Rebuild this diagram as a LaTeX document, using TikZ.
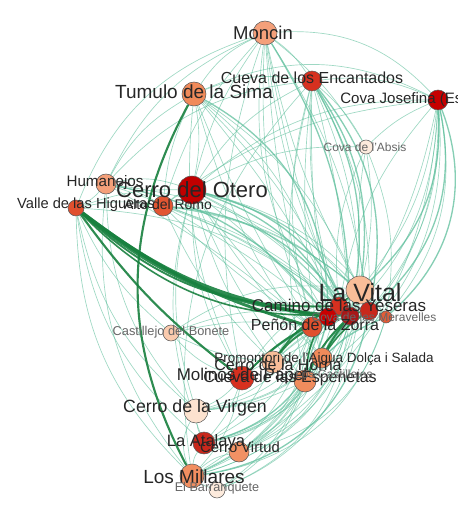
\documentclass[tikz,border=0pt]{standalone}
\usepackage{fontspec}
\setmainfont{Liberation Sans}
\pgfdeclarelayer{edges}
\pgfdeclarelayer{labels}
\pgfsetlayers{edges,main,labels}
\definecolor{eg}{HTML}{5DBE9B}
\definecolor{dg}{HTML}{17803E}
\definecolor{nA}{HTML}{C00000}
\definecolor{nB}{HTML}{C8281C}
\definecolor{nC}{HTML}{D7301F}
\definecolor{nD}{HTML}{E0502E}
\definecolor{nE}{HTML}{F08A5A}
\definecolor{nF}{HTML}{F4A07A}
\definecolor{nG}{HTML}{F9BD98}
\definecolor{nH}{HTML}{FCE2CF}
\definecolor{nI}{HTML}{A81818}
\tikzset{
  site/.style={circle, draw=black!65, line width=0.4pt, inner sep=0pt},
  lbl/.style={inner sep=0pt, text=black!85},
  glbl/.style={inner sep=0pt, text=black!60},
  e/.style={draw=eg, line width=0.5pt, opacity=0.6},
  em/.style={draw=eg, line width=1pt, opacity=0.75},
  dk/.style={draw=dg, opacity=0.9}
}
\newcommand\lsz[1]{\fontsize{#1}{#1}\selectfont}
\begin{document}
\begin{tikzpicture}[x=0.75pt,y=-0.75pt]
\useasboundingbox (0,0) rectangle (457,513);
% nodes
\node[site,fill=nF,minimum size=18pt] (mon) at (265,33) {};
\node[site,fill=nC,minimum size=15pt] (cue) at (312,81) {};
\node[site,fill=nA!90!red,minimum size=15pt] (jos) at (438,100) {};
\node[site,fill=nE,minimum size=18pt] (tum) at (194,94) {};
\node[site,fill=nH!70!white,minimum size=10.5pt] (abs) at (366,147) {};
\node[site,fill=nF,minimum size=15pt] (hum) at (106,184) {};
\node[site,fill=nA,minimum size=21pt] (ote) at (192,190) {};
\node[site,fill=nD!90!nE,minimum size=15pt] (rom) at (163,206) {};
\node[site,fill=nD,minimum size=12pt] (val) at (76,208) {};
\node[site,fill=nG,minimum size=21pt] (vit) at (360,290) {};
\node[site,fill=nC,minimum size=13.5pt] (cam) at (339,306) {};
\node[site,fill=nI,minimum size=13.5pt] (k1) at (350,316) {};
\node[site,fill=nB,minimum size=13.5pt] (k2) at (369,311) {};
\node[site,fill=nA!85!red,minimum size=13.5pt] (k3) at (328,317) {};
\node[site,fill=nD!80!nE,minimum size=9pt] (mer) at (386,317) {};
\node[site,fill=nD,minimum size=15pt] (pen) at (312,327) {};
\node[site,fill=nG!80!white,minimum size=12pt] (cas) at (171,333) {};
\node[site,fill=nG,minimum size=16.5pt] (pro) at (273,362) {};
\node[site,fill=nE,minimum size=15pt] (hor) at (322,358) {};
\node[site,fill=nC,minimum size=18pt] (mol) at (242,378) {};
\node[site,fill=nE!90!nF,minimum size=16.5pt] (esp) at (305,381) {};
\node[site,fill=nH,minimum size=18pt] (vir) at (196,411) {};
\node[site,fill=nB,minimum size=16.5pt] (ata) at (204,443) {};
\node[site,fill=nE!70!nF,minimum size=15pt] (ctv) at (239,452) {};
\node[site,fill=nE!80!nF,minimum size=18pt] (mil) at (192,476) {};
\node[site,fill=nH!70!white,minimum size=12pt] (bar) at (217,490) {};
% edges
\begin{pgfonlayer}{edges}
\foreach \a/\b/\c in {mon/tum/15, mon/cue/-10, mon/jos/-25, mon/abs/-10, mon/hum/20, mon/val/25, mon/ote/10, mon/vit/8, mon/k1/10, mon/k2/-12, mon/cam/5, mon/pen/12, mon/mol/15, mon/hor/6, mon/k3/20, mon/rom/12,
cue/jos/-15, cue/tum/15, cue/abs/-10, cue/ote/15, cue/vit/-10, cue/k1/-5, cue/k2/-15, cue/k3/5, cue/cam/10, cue/pen/15, cue/hor/8, cue/esp/12, cue/mil/25, cue/hum/20,
jos/abs/10, jos/vit/-15, jos/k2/-20, jos/mer/-25, jos/k1/-10, jos/cam/15, jos/ote/20, jos/tum/25, jos/rom/15, jos/pro/-30, jos/esp/-30, jos/mil/-30, jos/hor/-25,
tum/ote/-10, tum/rom/10, tum/hum/15, tum/vit/-15, tum/k1/-10, tum/cam/-5, tum/pen/5, tum/hor/10, tum/mol/15, tum/k3/-20,
abs/vit/-10, abs/k2/10, abs/cam/15, abs/mer/-15, abs/ote/15,
hum/ote/-15, hum/rom/-10, hum/val/-10, hum/vit/-15, hum/k1/-10, hum/pen/-5, hum/vir/20, hum/mil/22,
ote/rom/10, ote/vit/-15, ote/k1/-10, ote/k2/-20, ote/k3/-5, ote/cam/-12, ote/pen/5, ote/mer/-20, ote/pro/10, ote/hor/5, ote/mol/15, ote/esp/8, ote/vir/15, ote/ata/18,
rom/vit/-15, rom/k1/-10, rom/k3/-5, rom/cam/-12, rom/pen/5, rom/mer/-18, rom/pro/10,
val/rom/-10, val/ote/-10, val/vir/18, val/ata/20, val/mil/22, val/cas/12, val/k1/-18,
cas/pen/-10, cas/k3/-15, cas/pro/10, cas/mol/15, cas/vit/-20,
vir/pen/20, vir/k3/25, vir/vit/30, vir/mol/10, vir/hor/15, vir/ata/10, vir/mil/25, vir/esp/10,
ata/pen/20, ata/hor/25, ata/esp/20, ata/vit/30, ata/k1/25, ata/mil/15, ata/ctv/10, ata/mol/10, ata/pro/15,
ctv/pen/20, ctv/k1/25, ctv/esp/15, ctv/hor/20, ctv/vit/30, ctv/mil/15, ctv/mer/30,
mil/k3/25, mil/k1/30, mil/vit/32, mil/pen/20, mil/esp/15, mil/hor/20, mil/bar/10, mil/mer/32, mil/mol/15,
bar/pen/25, bar/k1/30, bar/esp/20, bar/vit/32,
pro/k1/-10, pro/k2/-15, pro/vit/-20, hor/k1/-10, hor/vit/-15, esp/k2/-20, esp/vit/-25, mol/k3/-10, mol/k1/-15, mol/vit/-20, pen/vit/-15, k3/vit/-15, mer/vit/10, pro/mol/10, hor/esp/10}
  \draw[e] (\a) to[bend right=\c] (\b);
\foreach \a/\b/\c in {cue/k1/-20, cue/k2/-25, cue/vit/-20, jos/k2/-30, jos/mer/-35, mon/k1/-15, ote/k1/-25, tum/k3/-30, hum/k3/-20, rom/k1/-25, ote/cam/-20, vit/esp/20, k2/hor/15, mer/esp/15, k1/mol/15, ata/k3/30, mil/k2/35, jos/vit/-25}
  \draw[em] (\a) to[bend right=\c] (\b);
\foreach \a/\b/\c/\w in {val/k3/14/2.6, val/k1/18/2.0, val/pen/10/2.2, val/cam/22/1.4, val/k2/26/1.2, val/mol/8/1.6, tum/mil/28/1.6, pen/pro/10/1.5, k3/mol/10/1.5, k1/esp/10/1.5, k2/hor/10/1.2, cam/pro/15/1.2, vit/esp/25/1.2, k1/hor/5/1.5}
  \draw[dk, line width=\w pt] (\a) to[bend right=\c] (\b);
\end{pgfonlayer}
% labels
\begin{pgfonlayer}{labels}
\node[lbl,font=\lsz{13.9}] (monL) at (263,33) {Moncin};
\node[lbl,font=\lsz{12}] (cueL) at (312,78) {Cueva de los Encantados};
\node[lbl,font=\lsz{11.3},anchor=west] (josL) at (340,100) {Cova Josefina (Escodines)};
\node[lbl,font=\lsz{14.25}] (tumL) at (194,92) {Tumulo de la Sima};
\node[glbl,font=\lsz{9}] (absL) at (365,147) {Cova de l'Absis};
\node[lbl,font=\lsz{11.4}] (humL) at (105,183) {Humanejos};
\node[lbl,font=\lsz{16.5}] (oteL) at (192,190) {Cerro del Otero};
\node[lbl,font=\lsz{10.5}] (romL) at (168,204) {Alto del Romo};
\node[lbl,font=\lsz{11}] (valL) at (86,205) {Valle de las Higueras};
\node[lbl,font=\lsz{18.75}] (vitL) at (360,293) {La Vital};
\node[lbl,font=\lsz{12.75}] (camL) at (339,305) {Camino de las Yeseras};
\node[glbl,font=\lsz{9}] (merL) at (374,317) {Cova de les Meravelles};
\node[lbl,font=\lsz{12}] (penL) at (315,325) {Peñón de la Zorra};
\node[glbl,font=\lsz{9.6}] (casL) at (171,332) {Castillejo del Bonete};
\node[lbl,font=\lsz{10.1}] (proL) at (324,359) {Promontori de l'Aigua Dolça i Salada};
\node[lbl,font=\lsz{12}] (horL) at (278,365) {Cerro de la Horna};
\node[lbl,font=\lsz{12.75}] (molL) at (242,376) {Molinos de Papel};
\node[lbl,font=\lsz{12}] (espL) at (290,378) {Cueva de las Espenetas};
\node[glbl,font=\lsz{9}] (lcsL) at (334,375) {Los Castillejos};
\node[lbl,font=\lsz{13.3}] (virL) at (195,408) {Cerro de la Virgen};
\node[lbl,font=\lsz{12.4}] (ataL) at (206,442) {La Atalaya};
\node[lbl,font=\lsz{11.1}] (ctvL) at (240,447) {Cerro Virtud};
\node[lbl,font=\lsz{14.25}] (milL) at (194,477) {Los Millares};
\node[glbl,font=\lsz{9.5}] (barL) at (217,488) {El Barranquete};
\end{pgfonlayer}
\end{tikzpicture}
\end{document}
